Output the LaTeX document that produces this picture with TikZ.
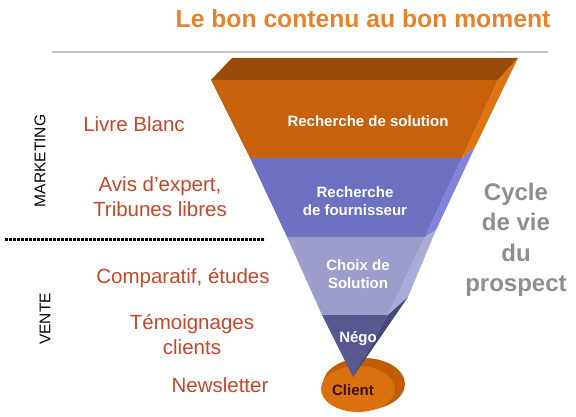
\documentclass[tikz,border=0pt]{standalone}
\usepackage{fontspec}
\setmainfont{Liberation Sans}
\usepackage{xcolor}
\usepackage{tikz}
\usetikzlibrary{positioning}
\definecolor{titleorange}{HTML}{E8822A}
\definecolor{labelred}{HTML}{C4472A}
\definecolor{rulegray}{HTML}{BCC3CA}
\definecolor{cyclegray}{HTML}{8E8E8E}
\definecolor{topbrown}{HTML}{994A06}
\definecolor{bandorange}{HTML}{C8610B}
\definecolor{sideorange}{HTML}{DE7410}
\definecolor{bandpurple}{HTML}{6E70C2}
\definecolor{sidepurple}{HTML}{8082DC}
\definecolor{bandlilac}{HTML}{9D9DCC}
\definecolor{sidelilac}{HTML}{ABABD8}
\definecolor{bandnavy}{HTML}{575890}
\definecolor{sidenavy}{HTML}{45467A}
\definecolor{discrim}{HTML}{C25C06}
\definecolor{disctop}{HTML}{D9710E}
\definecolor{clientbrown}{HTML}{3A1400}
\tikzset{
  lbl/.style={font=\fontsize{20.5}{25}\selectfont, text=labelred, align=center},
  stage/.style={font=\bfseries\fontsize{15}{18}\selectfont, text=white, align=center},
  phase/.style={rotate=90, font=\fontsize{15.5}{18}\selectfont, text=black},
  cyclelbl/.style={font=\bfseries\fontsize{24}{30.5}\selectfont, text=cyclegray, align=center},
}

\begin{document}
\begin{tikzpicture}[x=1pt, y=-1pt]
  \useasboundingbox (0,0) rectangle (576,417);
  % title and rule
  \node[font=\bfseries\fontsize{24.7}{28}\selectfont, text=titleorange] (title) at (363,19) {Le bon contenu au bon moment};
  \draw[rulegray, line width=1.5pt] (52,52) -- (548,52);

  % client disc (behind the funnel tip)
  \fill[discrim] (364,384) ellipse [x radius=41, y radius=26];
  \fill[disctop] (358,389) ellipse [x radius=37, y radius=23];

  % funnel faces
  \fill[topbrown]   (232,58) -- (518,58) -- (498,80) -- (211,80) -- cycle;
  \fill[bandorange] (211,80) -- (498,80) -- (462,158) -- (250,158) -- cycle;
  \fill[sideorange] (498,80) -- (518,58) -- (475,147) -- (462,158) -- cycle;
  \fill[bandpurple] (250,158) -- (462,158) -- (425,237) -- (287,237) -- cycle;
  \fill[sidepurple] (462,158) -- (475,147) -- (436,230) -- (425,237) -- cycle;
  \fill[bandlilac]  (287,237) -- (425,237) -- (388,315) -- (322,315) -- cycle;
  \fill[sidelilac]  (425,237) -- (436,230) -- (408,297) -- (388,315) -- cycle;
  \fill[bandnavy]   (322,315) -- (388,315) -- (353,377) -- cycle;
  \fill[sidenavy]   (388,315) -- (408,297) -- (353,377) -- cycle;

  % stage names
  \node[stage] (sol)   at (368,121) {Recherche de solution};
  \node[stage] (four)  at (355,201) {Recherche\\de fournisseur};
  \node[stage] (choix) at (358,274) {Choix de\\Solution};
  \node[stage] (nego)  at (358,339) {Négo};
  \node[stage, text=clientbrown] (client) at (353,390) {Client};

  % content types
  \node[lbl] (livre)   at (134,124) {Livre Blanc};
  \node[lbl] (avis)    at (160,197) {Avis d’expert,\\Tribunes libres};
  \node[lbl] (compar)  at (183,278) {Comparatif, études};
  \node[lbl] (temoin)  at (192,335) {Témoignages\\clients};
  \node[lbl] (news)    at (220,385) {Newsletter};

  % phases
  \node[phase] (mkt)   at (40,161) {MARKETING};
  \node[phase] (vente) at (45,319) {VENTE};
  \draw[black, line width=3pt, dash pattern=on 2.6pt off 1.4pt] (5,239) -- (265,239);

  \node[cyclelbl] (cycle) at (516,240) {Cycle\\de vie\\du\\prospect};
\end{tikzpicture}
\end{document}
